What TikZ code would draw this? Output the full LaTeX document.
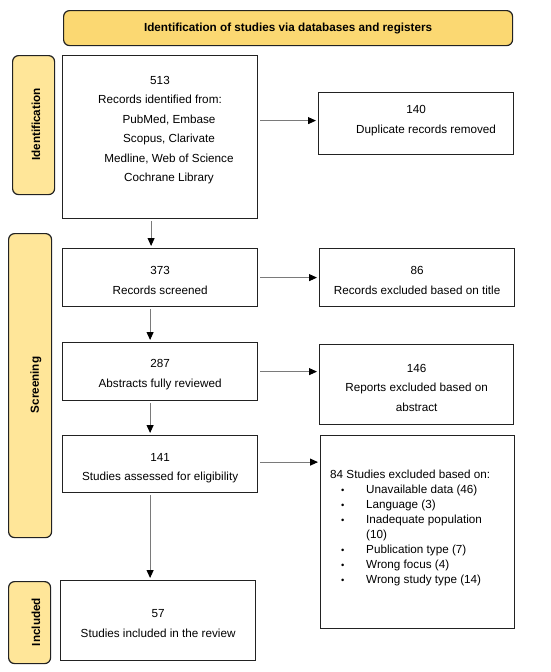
\documentclass[tikz,border=0pt]{standalone}
\usepackage{fontspec}
\setmainfont{Liberation Sans}
\usetikzlibrary{arrows.meta,calc}
\definecolor{bannerfill}{HTML}{FBD872}
\definecolor{sidefill}{HTML}{FFE699}
\definecolor{edge}{HTML}{222222}
\definecolor{arrowgray}{HTML}{7A7A7A}
\newcommand{\mybul}{\makebox[25pt][l]{\raisebox{0.5pt}{\scalebox{0.8}{\textbullet}}}}
\begin{document}
\begin{tikzpicture}[x=1pt,y=-1pt,
  font=\fontsize{11.7}{19.5}\selectfont,
  box/.style={draw=edge, line width=1.2pt, fill=white, inner sep=0pt, anchor=north west},
  boxtext/.style={inner sep=0pt, align=center},
  banner/.style={draw=edge, line width=1.2pt, fill=bannerfill, rounded corners=6pt, inner sep=0pt, anchor=north west, font=\fontsize{11.7}{14}\selectfont\bfseries},
  side/.style={draw=edge, line width=1.2pt, fill=sidefill, rounded corners=6pt, inner sep=0pt, anchor=north west},
  sidetext/.style={rotate=90, inner sep=0pt, font=\fontsize{11.7}{14}\selectfont\bfseries},
  arr/.style={draw=arrowgray, line width=0.9pt, -{Triangle[length=8pt,width=7pt,color=black]}, shorten <=2pt, shorten >=2pt}
]
\useasboundingbox (0,0) rectangle (550,672);

% banner
\node[banner, minimum width=449pt, minimum height=35pt] (ban) at (63,10) {\raisebox{-2pt}{Identification of studies via databases and registers}};

% side labels
\node[side, minimum width=42pt, minimum height=139pt] (sid) at (12,55) {};
\node[sidetext] (sidt) at (36,124.5) {Identification};
\node[side, minimum width=43pt, minimum height=304pt] (scr) at (8,233) {};
\node[sidetext] (scrt) at (36,385) {Screening};
\node[side, minimum width=42pt, minimum height=82pt] (inc) at (8,581) {};
\node[sidetext] (inct) at (36,622) {Included};

% left column
\node[box, minimum width=195pt, minimum height=163pt] (b513) at (62,55) {};
\node[boxtext] (t513) at (160,130) {513\\Records identified from:\\\hspace*{18pt}PubMed, Embase\\\hspace*{18pt}Scopus, Clarivate\\\hspace*{18pt}Medline, Web of Science\\\hspace*{18pt}Cochrane Library};
\node[box, minimum width=195pt, minimum height=58pt] (b373) at (62,248) {};
\node[boxtext] (t373) at ($(b373.center)+(0,3)$) {373\\Records screened};
\node[box, minimum width=195pt, minimum height=58pt] (b287) at (62,342) {};
\node[boxtext] (t287) at ($(b287.center)+(0,3)$) {287\\Abstracts fully reviewed};
\node[box, minimum width=195pt, minimum height=57pt] (b141) at (62,435) {};
\node[boxtext] (t141) at ($(b141.center)+(0,4)$) {141\\Studies assessed for eligibility};
\node[box, minimum width=195pt, minimum height=80pt] (b57) at (60,580) {};
\node[boxtext] (t57) at ($(b57.center)+(0,3)$) {57\\Studies included in the review};

% right column
\node[box, minimum width=195pt, minimum height=62pt] (b140) at (318,92) {};
\node[boxtext] (t140) at ($(b140.center)+(0,-3)$) {140\\\hspace*{20pt}Duplicate records removed};
\node[box, minimum width=195pt, minimum height=58pt] (b86) at (319,248) {};
\node[boxtext] (t86) at ($(b86.center)+(0,3)$) {86\\Records excluded based on title};
\node[box, minimum width=194pt, minimum height=80pt] (b146) at (319,344) {};
\node[boxtext] (t146) at ($(b146.center)+(0,3)$) {146\\Reports excluded based on\\abstract};
\node[box, minimum width=194pt, minimum height=193pt] (b84) at (320,435) {};
\node[inner sep=0pt, align=left, anchor=north west, font=\fontsize{11.7}{15}\selectfont] (t84) at (330,470) {84 Studies excluded based on:\\
\hspace*{11pt}\mybul Unavailable data (46)\\
\hspace*{11pt}\mybul Language (3)\\
\hspace*{11pt}\mybul Inadequate population\\
\hspace*{36pt}(10)\\
\hspace*{11pt}\mybul Publication type (7)\\
\hspace*{11pt}\mybul Wrong focus (4)\\
\hspace*{11pt}\mybul Wrong study type (14)};

% horizontal arrows
\draw[arr] ([yshift=3pt]b513.east |- b140.west) -- ([yshift=3pt]b140.west);
\draw[arr] (b373.east) -- (b86.west);
\draw[arr] (b287.east) -- (b287.east -| b146.west);
\draw[arr] ([yshift=2pt]b141.east) -- ([yshift=2pt]b141.east -| b84.west);

% vertical arrows
\draw[arr] ([xshift=-9pt]b513.south) -- ([xshift=-9pt]b513.south |- b373.north);
\draw[arr] ([xshift=-10pt]b373.south) -- ([xshift=-10pt]b373.south |- b287.north);
\draw[arr] ([xshift=-10pt]b287.south) -- ([xshift=-10pt]b287.south |- b141.north);
\draw[arr] ([xshift=-10pt]b141.south) -- ([xshift=-10pt]b141.south |- b57.north);
\end{tikzpicture}
\end{document}
